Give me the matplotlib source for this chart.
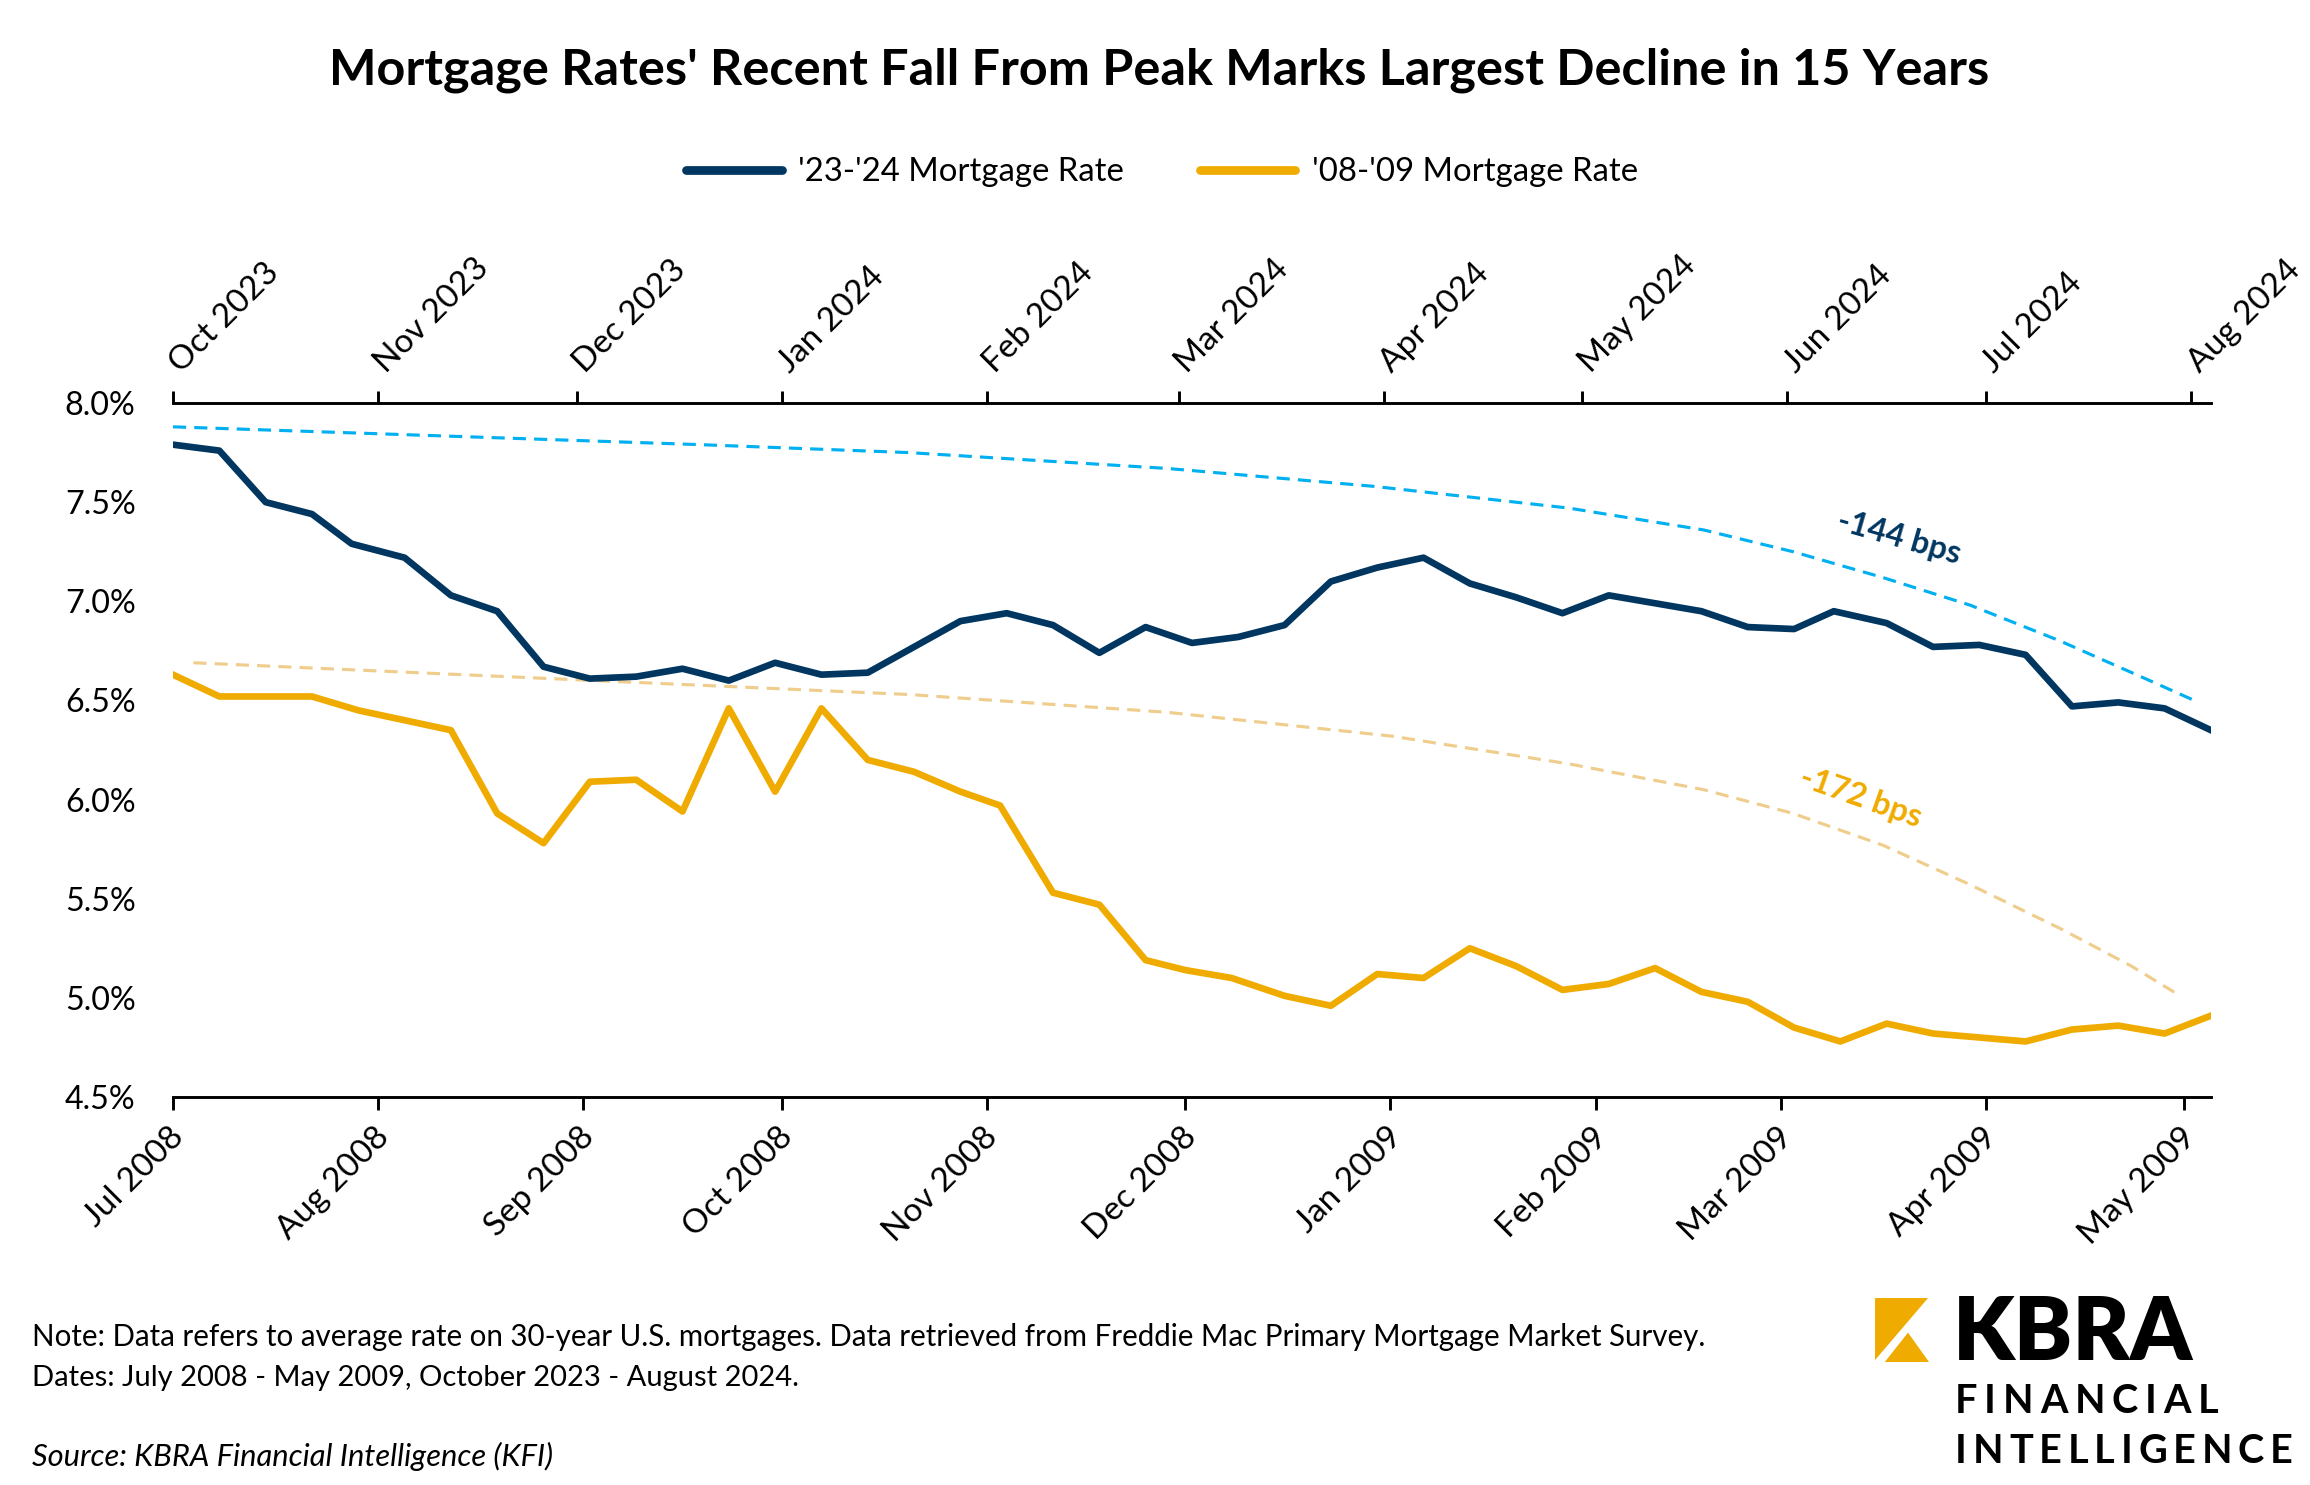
import matplotlib
matplotlib.use('Agg')
import matplotlib.pyplot as plt
import matplotlib.transforms as mtrans
from matplotlib.patches import Polygon
import pandas as pd

plt.rcParams['font.family'] = ['Lato', 'DejaVu Sans']

NAVY = '#003660'
GOLD = '#F0AB00'
LIGHT_BLUE = '#00B0F0'
LIGHT_GOLD = '#EFCD8C'

# weekly 30-year rates, Freddie Mac PMMS
dates_0809 = ['2008-07-24', '2008-07-31', '2008-08-07', '2008-08-14', '2008-08-21', '2008-08-28',
              '2008-09-04', '2008-09-11', '2008-09-18', '2008-09-25', '2008-10-02', '2008-10-09',
              '2008-10-16', '2008-10-23', '2008-10-30', '2008-11-06', '2008-11-13', '2008-11-20',
              '2008-11-26', '2008-12-04', '2008-12-11', '2008-12-18', '2008-12-24', '2008-12-31',
              '2009-01-08', '2009-01-15', '2009-01-22', '2009-01-29', '2009-02-05', '2009-02-12',
              '2009-02-19', '2009-02-26', '2009-03-05', '2009-03-12', '2009-03-19', '2009-03-26',
              '2009-04-02', '2009-04-09', '2009-04-16', '2009-04-23', '2009-04-30', '2009-05-07',
              '2009-05-14', '2009-05-21', '2009-05-28']
rate_0809 = [6.63, 6.52, 6.52, 6.52, 6.45, 6.40, 6.35, 5.93, 5.78, 6.09, 6.10, 5.94,
             6.46, 6.04, 6.46, 6.20, 6.14, 6.04, 5.97, 5.53, 5.47, 5.19, 5.14, 5.10,
             5.01, 4.96, 5.12, 5.10, 5.25, 5.16, 5.04, 5.07, 5.15, 5.03, 4.98, 4.85,
             4.78, 4.87, 4.82, 4.80, 4.78, 4.84, 4.86, 4.82, 4.91]

dates_2324 = ['2023-10-26', '2023-11-02', '2023-11-09', '2023-11-16', '2023-11-22', '2023-11-30',
              '2023-12-07', '2023-12-14', '2023-12-21', '2023-12-28', '2024-01-04', '2024-01-11',
              '2024-01-18', '2024-01-25', '2024-02-01', '2024-02-08', '2024-02-15', '2024-02-22',
              '2024-02-29', '2024-03-07', '2024-03-14', '2024-03-21', '2024-03-28', '2024-04-04',
              '2024-04-11', '2024-04-18', '2024-04-25', '2024-05-02', '2024-05-09', '2024-05-16',
              '2024-05-23', '2024-05-30', '2024-06-06', '2024-06-13', '2024-06-20', '2024-06-27',
              '2024-07-03', '2024-07-11', '2024-07-18', '2024-07-25', '2024-08-01', '2024-08-08',
              '2024-08-15', '2024-08-22', '2024-08-29']
rate_2324 = [7.79, 7.76, 7.50, 7.44, 7.29, 7.22, 7.03, 6.95, 6.67, 6.61, 6.62, 6.66,
             6.60, 6.69, 6.63, 6.64, 6.77, 6.90, 6.94, 6.88, 6.74, 6.87, 6.79, 6.82,
             6.88, 7.10, 7.17, 7.22, 7.09, 7.02, 6.94, 7.03, 6.99, 6.95, 6.87, 6.86,
             6.95, 6.89, 6.77, 6.78, 6.73, 6.47, 6.49, 6.46, 6.35]

# axis ticks (monthly steps from the first week)
ticks_0809 = ['2008-07-24', '2008-08-24', '2008-09-24', '2008-10-24', '2008-11-24', '2008-12-24',
              '2009-01-24', '2009-02-24', '2009-03-24', '2009-04-24', '2009-05-24']
labels_0809 = ['Jul 2008', 'Aug 2008', 'Sep 2008', 'Oct 2008', 'Nov 2008', 'Dec 2008',
               'Jan 2009', 'Feb 2009', 'Mar 2009', 'Apr 2009', 'May 2009']
ticks_2324 = ['2023-10-26', '2023-11-26', '2023-12-26', '2024-01-26', '2024-02-26', '2024-03-26',
              '2024-04-26', '2024-05-26', '2024-06-26', '2024-07-26', '2024-08-26']
labels_2324 = ['Oct 2023', 'Nov 2023', 'Dec 2023', 'Jan 2024', 'Feb 2024', 'Mar 2024',
               'Apr 2024', 'May 2024', 'Jun 2024', 'Jul 2024', 'Aug 2024']

y_ticks = [4.5, 5.0, 5.5, 6.0, 6.5, 7.0, 7.5, 8.0]

# hand drawn guide arcs (x as fraction of plot width)
arc_blue_t = [0.0, 0.259, 0.361, 0.488, 0.589, 0.685, 0.751, 0.795, 0.839, 0.882, 0.926, 0.970, 0.994]
arc_blue_y = [7.88, 7.79, 7.75, 7.67, 7.58, 7.47, 7.36, 7.25, 7.12, 6.98, 6.80, 6.60, 6.49]
arc_gold_t = [0.010, 0.361, 0.488, 0.598, 0.685, 0.751, 0.795, 0.839, 0.882, 0.926, 0.961, 0.985]
arc_gold_y = [6.69, 6.53, 6.44, 6.32, 6.18, 6.05, 5.93, 5.77, 5.57, 5.35, 5.16, 5.01]

fig = plt.figure(figsize=(15.4, 9.9), dpi=150)
ax = fig.add_axes([0.0749, 0.2613, 0.8822, 0.4673])
ax2 = ax.twiny()

d0809 = pd.to_datetime(dates_0809)
d2324 = pd.to_datetime(dates_2324)

l_old, = ax.plot(d0809, rate_0809, color=GOLD, lw=3.2, zorder=3, label="'08-'09 Mortgage Rate")
l_new, = ax2.plot(d2324, rate_2324, color=NAVY, lw=3.2, zorder=3, label="'23-'24 Mortgage Rate")

ax.set_xlim(d0809[0], d0809[-1])
ax2.set_xlim(d2324[0], d2324[-1])
ax.set_ylim(4.5, 8.0)

# guide arcs
blend = mtrans.blended_transform_factory(ax.transAxes, ax.transData)
ax.plot(arc_blue_t, arc_blue_y, transform=blend, color=LIGHT_BLUE, lw=1.5, ls=(0, (4.2, 2.6)), zorder=2)
ax.plot(arc_gold_t, arc_gold_y, transform=blend, color=LIGHT_GOLD, lw=1.5, ls=(0, (4.2, 2.6)), zorder=2)

ax.text(0.847, 7.32, '-144 bps', transform=blend, color=NAVY, fontsize=15.5, fontweight='bold',
        rotation=-16, ha='center', va='center', rotation_mode='anchor')
ax.text(0.828, 6.01, '-172 bps', transform=blend, color=GOLD, fontsize=15.5, fontweight='bold',
        rotation=-19.5, ha='center', va='center', rotation_mode='anchor')

# axes styling
for a in (ax, ax2):
    for s in ('left', 'right'):
        a.spines[s].set_visible(False)
ax.spines['top'].set_visible(False)
ax2.spines['bottom'].set_visible(False)
ax.spines['bottom'].set_linewidth(1.4)
ax2.spines['top'].set_linewidth(1.4)

ax.set_yticks(y_ticks)
ax.set_yticklabels(['%.1f%%' % v for v in y_ticks])
ax.tick_params(axis='y', length=0, labelsize=15.5, pad=18)

ax.set_xticks(pd.to_datetime(ticks_0809))
ax.set_xticklabels(labels_0809, rotation=45, ha='right', va='top', rotation_mode='anchor')
ax.tick_params(axis='x', direction='out', length=6, width=1.4, labelsize=16, pad=6)

ax2.set_xticks(pd.to_datetime(ticks_2324))
ax2.set_xticklabels(labels_2324, rotation=45, ha='left', va='bottom', rotation_mode='anchor')
ax2.tick_params(axis='x', direction='out', length=6, width=1.4, labelsize=16, pad=6)

shift_top = mtrans.ScaledTranslation(6 / 72, 0, fig.dpi_scale_trans)
for lab in ax2.get_xticklabels():
    lab.set_transform(lab.get_transform() + shift_top)
shift_bot = mtrans.ScaledTranslation(-2 / 72, 0, fig.dpi_scale_trans)
for lab in ax.get_xticklabels():
    lab.set_transform(lab.get_transform() + shift_bot)

# title and legend
fig.text(0.502, 0.953, "Mortgage Rates' Recent Fall From Peak Marks Largest Decline in 15 Years",
         ha='center', va='center', fontsize=24.2, fontweight='bold')
leg = fig.legend(handles=[l_new, l_old], loc='center', bbox_to_anchor=(0.503, 0.884), ncol=2,
                 frameon=False, fontsize=15.8, handlelength=2.9, handletextpad=0.5, columnspacing=2.3)
for h in leg.get_lines():
    h.set_solid_capstyle('round')
    h.set_linewidth(4.2)

# footer
fig.text(0.014, 0.0995, 'Note: Data refers to average rate on 30-year U.S. mortgages. Data retrieved from '
         'Freddie Mac Primary Mortgage Market Survey.', ha='left', va='center', fontsize=14.2)
fig.text(0.014, 0.072, 'Dates: July 2008 - May 2009, October 2023 - August 2024.',
         ha='left', va='center', fontsize=14.0)
fig.text(0.014, 0.019, 'Source: KBRA Financial Intelligence (KFI)', ha='left', va='center',
         fontsize=14.8, style='italic')

# logo
lax = fig.add_axes([0.8117, 0.0828, 0.0234, 0.0431])
lax.set_xlim(0, 1)
lax.set_ylim(0, 1)
lax.axis('off')
lax.add_patch(Polygon([(0, 1), (0.98, 1), (0, 0.03)], closed=True, color=GOLD, lw=0))
lax.add_patch(Polygon([(0.18, 0), (1, 0), (0.61, 0.46)], closed=True, color=GOLD, lw=0))
fig.text(0.8455, 0.0845, 'KBRA', ha='left', va='baseline', fontsize=42, fontweight='heavy')

renderer = fig.canvas.get_renderer()
W = fig.bbox.width


def spaced_word(x0, y, word, width_px, **kw):
    # letter-spaced logo text, one glyph per text object
    parts = [fig.text(0, y, ch, ha='left', va='baseline', **kw) for ch in word]
    widths = [p.get_window_extent(renderer).width for p in parts]
    gap = (width_px - sum(widths)) / (len(word) - 1)
    x = x0 * W
    for p, w in zip(parts, widths):
        p.set_x(x / W)
        x += w + gap


spaced_word(0.8463, 0.0485, 'FINANCIAL', 263, fontsize=19, fontweight='bold')
spaced_word(0.8463, 0.0149, 'INTELLIGENCE', 338, fontsize=19, fontweight='bold')

fig.savefig('out.png', dpi=150)
